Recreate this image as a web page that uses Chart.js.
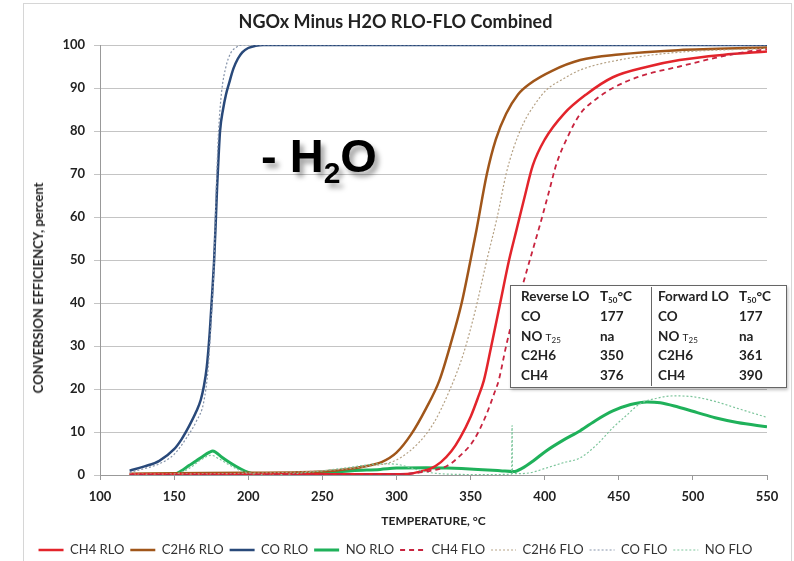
<!DOCTYPE html>
<html>
<head>
<meta charset="utf-8">
<title>NGOx Minus H2O RLO-FLO Combined</title>
<script src="https://cdn.jsdelivr.net/npm/chart.js@4.4.1/dist/chart.umd.min.js"></script>
<style>
  html, body { margin: 0; padding: 0; background: #fff; }
  #wrap { position: relative; width: 794px; height: 561px; overflow: hidden; font-family: Lato, "Open Sans", sans-serif; color: #222; }
  #frame { position: absolute; left: 23px; top: 3px; width: 767px; height: 600px; border: 1px solid #d6d6d6; }
  #chart { position: absolute; left: 0; top: 0; }
  #ytitle { position: absolute; left: 38px; top: 288px; transform: translate(-50%, -50%) rotate(-90deg); white-space: nowrap; font-weight: 700; font-size: 13px; }
  #note { position: absolute; left: 261px; top: 132px; font-family: "Liberation Sans", Arial, sans-serif; font-weight: 700; font-size: 47px; line-height: 47px; color: #000; white-space: nowrap; text-shadow: 4px 5px 5px rgba(0, 0, 0, 0.35); }
  #note span { font-size: 30px; position: relative; top: 11px; }
  #t50 { position: absolute; left: 510px; top: 285px; background: #fff; border: 1px solid #666; box-shadow: 1px 2px 3px rgba(0, 0, 0, 0.25); display: grid; grid-template-columns: 89px 51px 88px 47px; font-weight: 700; font-size: 13.5px; padding: 1px 0; }
  #t50 div { height: 19.8px; line-height: 19.8px; white-space: nowrap; }
  #t50 .c1 { padding-left: 10px; }
  #t50 .c3 { padding-left: 6px; border-left: 1px solid #666; }
  #t50 sub { font-size: 8px; vertical-align: -2px; }
  #t50 small { font-size: 10px; font-weight: 400; }
</style>
</head>
<body>
<div id="wrap">
  <div id="frame"></div>
  <canvas id="chart" width="794" height="561"></canvas>
  <div id="ytitle">CONVERSION EFFICIENCY, percent</div>
  <div id="note">- H<span>2</span>O</div>
  <div id="t50"></div>
</div>
<script>
// temperatures (°C) and conversion (%) for each run
const tCh4Rlo = [120, 200, 250, 300, 309, 316, 323, 330, 337, 343, 350, 355, 359, 364, 370, 376, 381, 386, 392, 400, 413, 428, 446, 470, 491, 520, 550];
const vCh4Rlo = [0.2, 0.2, 0.2, 0.2, 0.3, 0.8, 1.5, 3, 5.5, 8.7, 13.5, 18, 22, 30, 40, 50, 57, 64, 72, 78, 84, 88.5, 92.5, 95, 96.5, 97.7, 98.5];

const tC2h6Rlo = [120, 150, 200, 250, 270, 280, 290, 300, 310, 320, 329, 337, 344, 350, 354, 361, 367, 374, 382, 390, 405, 424, 450, 490, 550];
const vC2h6Rlo = [0.3, 0.4, 0.5, 0.8, 1.5, 2.1, 3.0, 5.2, 9.5, 15.5, 22, 31, 40, 50, 57, 70, 78, 84, 88.5, 91, 94, 96.5, 97.8, 98.8, 99.4];

const tCoRlo = [120, 130, 140, 150, 155, 160, 165, 168, 170, 172, 174, 176, 177, 178, 179, 180, 181, 183, 185, 187, 190, 193, 196, 200, 205, 210, 550];
const vCoRlo = [1.0, 2.0, 3.3, 6.0, 8.3, 11.3, 14.8, 17.5, 20.5, 25, 33, 44, 50, 58, 67, 74, 80, 85, 88.5, 91, 94.5, 96.8, 98.3, 99.3, 99.8, 100, 100];

const tNoRlo = [150, 155, 160, 165, 170, 174, 176, 178, 182, 188, 195, 200, 205, 210, 230, 250, 270, 289, 300, 320, 334, 355, 370, 379, 385, 392, 401, 412, 424, 435, 446, 458, 469, 478, 490, 503, 515, 530, 550];
const vNoRlo = [0, 1, 2.2, 3.3, 4.5, 5.3, 5.6, 5.3, 4.2, 2.8, 1.4, 0.6, 0.1, 0, 0.1, 0.4, 1.0, 1.3, 1.6, 1.7, 1.6, 1.3, 1.0, 0.8, 1.6, 3.2, 5.6, 8.0, 10.3, 12.8, 14.9, 16.4, 17.0, 16.8, 15.8, 14.5, 13.3, 12.2, 11.2];

const tCh4Flo = [120, 250, 300, 320, 334, 343, 352, 360, 366, 369, 374, 379, 385, 390, 397, 403, 408, 416, 424, 435, 446, 465, 491, 515, 536, 550];
const vCh4Flo = [0, 0.1, 0.2, 0.8, 2.1, 4.5, 8, 13.5, 19, 22, 30, 37, 44, 50, 58.4, 66, 72.4, 79, 84, 87.5, 90, 92.8, 95, 97, 98.4, 99];

const tC2h6Flo = [120, 200, 250, 280, 300, 315, 325, 335, 345, 353, 361, 368, 374, 379, 386, 394, 401, 412, 424, 450, 490, 550];
const vC2h6Flo = [0.2, 0.4, 1.0, 2.0, 3.5, 7.5, 12, 19, 28, 38, 50, 60, 70, 76, 82, 86.5, 89.5, 92, 94.2, 96.5, 98.3, 99.2];

const tCoFlo = [120, 130, 140, 150, 160, 165, 170, 173, 175, 177, 178, 179, 180, 182, 185, 188, 192, 196, 550];
const vCoFlo = [0.6, 1.5, 2.6, 4.8, 9.5, 12.5, 17, 25, 36, 50, 62, 72, 80, 89, 95, 98, 99.5, 100, 100];

const tNoFlo = [150, 160, 168, 175, 180, 188, 195, 205, 215, 240, 265, 290, 300, 310, 320, 335, 360, 377.7, 378, 378.3, 390, 400, 412, 424, 435, 446, 455, 464, 475, 487, 500, 514, 530, 550];
const vNoFlo = [0, 1.5, 3.5, 4.6, 3.8, 2.2, 1.0, 0.2, 0, 0.6, 1.6, 2.6, 2.5, 1.6, 0.7, 0.2, 0.1, 0.2, 11.5, 0.3, 0.5, 1.5, 2.8, 4.0, 7.0, 11.0, 13.8, 16.5, 17.8, 18.4, 18.2, 17.2, 15.5, 13.4];

// T50 light-off table
const t50Rows = [
  ['Reverse LO', 'T<sub>50</sub>°C', 'Forward LO', 'T<sub>50</sub>°C'],
  ['CO', '177', 'CO', '177'],
  ['NO <small>T<sub>25</sub></small>', 'na', 'NO <small>T<sub>25</sub></small>', 'na'],
  ['C2H6', '350', 'C2H6', '361'],
  ['CH4', '376', 'CH4', '390']
];

function pts(t, v) {
  return t.map((x, i) => ({ x: x, y: v[i] }));
}

// fill the table
const t50 = document.getElementById('t50');
t50Rows.forEach(row => {
  row.forEach((cell, i) => {
    const d = document.createElement('div');
    d.className = 'c' + (i + 1);
    d.innerHTML = cell;
    t50.appendChild(d);
  });
});

Chart.defaults.font.family = 'Lato, "Open Sans", sans-serif';
Chart.defaults.color = '#222';

const datasets = [
  { label: 'CH4 RLO', data: pts(tCh4Rlo, vCh4Rlo), borderColor: '#e3242b', borderWidth: 2.5, order: 5 },
  { label: 'C2H6 RLO', data: pts(tC2h6Rlo, vC2h6Rlo), borderColor: '#a0561a', borderWidth: 2.5, order: 6 },
  { label: 'CO RLO', data: pts(tCoRlo, vCoRlo), borderColor: '#29497a', borderWidth: 2.5, order: 7 },
  { label: 'NO RLO', data: pts(tNoRlo, vNoRlo), borderColor: '#1fb15a', borderWidth: 3, order: 8 },
  { label: 'CH4 FLO', data: pts(tCh4Flo, vCh4Flo), borderColor: '#c8243f', borderWidth: 1.8, borderDash: [5, 4], order: 1 },
  { label: 'C2H6 FLO', data: pts(tC2h6Flo, vC2h6Flo), borderColor: '#b5a184', borderWidth: 1.2, borderDash: [2, 2], order: 2 },
  { label: 'CO FLO', data: pts(tCoFlo, vCoFlo), borderColor: '#8593aa', borderWidth: 1.2, borderDash: [2, 2], order: 3 },
  { label: 'NO FLO', data: pts(tNoFlo, vNoFlo), borderColor: '#7cc59b', borderWidth: 1.2, borderDash: [2, 2], order: 4 }
];

const ctx = document.getElementById('chart').getContext('2d');
new Chart(ctx, {
  type: 'line',
  data: { datasets: datasets },
  options: {
    responsive: false,
    animation: false,
    layout: { padding: { left: 24, right: 27, top: 0, bottom: -5.5 } },
    elements: {
      point: { radius: 0 },
      line: { cubicInterpolationMode: 'monotone', fill: false }
    },
    plugins: {
      title: {
        display: true,
        text: 'NGOx Minus H2O RLO-FLO Combined',
        color: '#222',
        font: { size: 18, weight: 'bold' },
        padding: { top: 11, bottom: 12.4 }
      },
      legend: {
        position: 'bottom',
        labels: {
          // zero-height box = a short line sample that keeps the dash pattern
          boxWidth: 25,
          boxHeight: 0,
          padding: 6,
          color: '#333',
          font: { size: 13 },
          sort: (a, b) => a.datasetIndex - b.datasetIndex
        }
      },
      tooltip: { enabled: false }
    },
    scales: {
      x: {
        type: 'linear',
        min: 100,
        max: 550,
        ticks: { stepSize: 50, padding: 9.5, color: '#222', font: { size: 13, weight: 'bold' } },
        grid: { drawOnChartArea: false, tickLength: 5, color: '#999' },
        border: { color: '#999' },
        title: { display: true, text: 'TEMPERATURE, °C', color: '#222', font: { size: 12, weight: 'bold' }, padding: { top: 0, bottom: 9.3 } },
        afterFit: s => { s.height = 62.5; }
      },
      y: {
        min: 0,
        max: 100,
        ticks: { stepSize: 10, padding: 9, color: '#222', font: { size: 13, weight: 'bold' } },
        grid: { color: '#c4c4c4', tickLength: 6 },
        border: { color: '#999' },
        afterFit: s => { s.width = 76; }
      }
    }
  }
});
</script>
</body>
</html>
